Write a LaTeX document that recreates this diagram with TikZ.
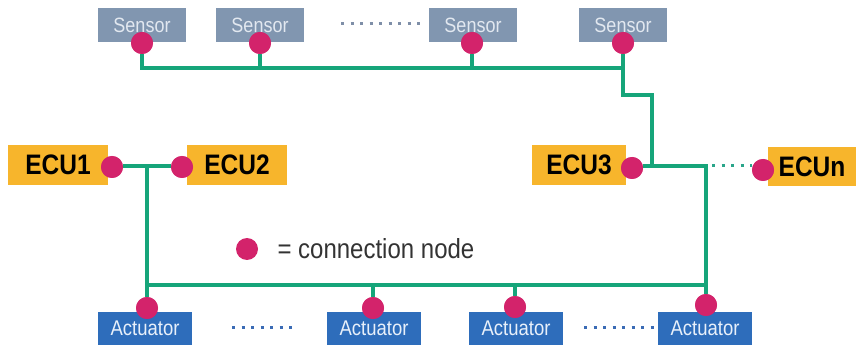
\documentclass[tikz,border=0pt]{standalone}
\usepackage{fontspec}
\setmainfont{Liberation Sans}
\definecolor{sensorc}{HTML}{8196B0}
\definecolor{sensortxt}{HTML}{E2E8F0}
\definecolor{actc}{HTML}{2E6DBB}
\definecolor{acttxt}{HTML}{E8F0FA}
\definecolor{ecuc}{HTML}{F7B52C}
\definecolor{dotc}{HTML}{D3236B}
\definecolor{busc}{HTML}{16A57A}
\definecolor{sdots}{HTML}{7F8FA8}
\definecolor{adots}{HTML}{3A6BB5}
\definecolor{edots}{HTML}{2AA58A}
\newcommand{\vstretch}[1]{\scalebox{1}[1.15]{#1}}
\begin{document}
\begin{tikzpicture}[x=1pt,y=-1pt,
  sensorbox/.style={rectangle, fill=sensorc, minimum width=88pt, minimum height=34pt, inner sep=0pt, text=sensortxt, font=\fontsize{18}{18}\selectfont},
  actbox/.style={rectangle, fill=actc, minimum width=94pt, minimum height=33pt, inner sep=0pt, text=acttxt, font=\fontsize{18.5}{18.5}\selectfont},
  ecubox/.style={rectangle, fill=ecuc, minimum height=40pt, inner sep=0pt, text=black, font=\fontsize{24.5}{24.5}\selectfont\bfseries},
  cnode/.style={circle, fill=dotc, minimum size=22pt, inner sep=0pt},
  bus/.style={draw=busc, line width=4pt},
  dotline/.style={line width=3pt, dash pattern=on 3pt off 6.5pt}]
\useasboundingbox (0,0) rectangle (864,347);
% boxes
\node[sensorbox] (s1) at (142,25) {\vstretch{Sensor}};
\node[sensorbox] (s2) at (260,25) {\vstretch{Sensor}};
\node[sensorbox] (s3) at (473,25) {\vstretch{Sensor}};
\node[sensorbox] (s4) at (623,25) {\vstretch{Sensor}};
\node[ecubox, minimum width=100pt] (e1) at (58,165) {\vstretch{ECU1}};
\node[ecubox, minimum width=100pt] (e2) at (237,165) {\vstretch{ECU2}};
\node[ecubox, minimum width=94pt] (e3) at (579,165) {\vstretch{ECU3}};
\node[ecubox, minimum width=88pt, minimum height=39pt] (en) at (812,167) {\vstretch{ECUn}};
\node[actbox] (a1) at (145,328) {\vstretch{Actuator}};
\node[actbox] (a2) at (374,328) {\vstretch{Actuator}};
\node[actbox] (a3) at (516,328) {\vstretch{Actuator}};
\node[actbox] (a4) at (705,328) {\vstretch{Actuator}};
% connection nodes
\node[cnode] (ds1) at (142,43) {};
\node[cnode] (ds2) at (260,43) {};
\node[cnode] (ds3) at (472,43) {};
\node[cnode] (ds4) at (623,43) {};
\node[cnode] (de1) at (112,167) {};
\node[cnode] (de2) at (182,167) {};
\node[cnode] (de3) at (632,168) {};
\node[cnode] (den) at (763,170) {};
\node[cnode] (da1) at (147,308) {};
\node[cnode] (da2) at (373,308) {};
\node[cnode] (da3) at (515,307) {};
\node[cnode] (da4) at (706,305) {};
% junction coordinates
\coordinate (t1) at (142,68);
\coordinate (t4) at (623,68);
\coordinate (k1) at (623,95);
\coordinate (k2) at (652,95);
\coordinate (k3) at (652,166);
\coordinate (r1) at (706,166);
\coordinate (r2) at (706,285);
\coordinate (l1) at (147,166);
\coordinate (l2) at (147,285);
% buses
\draw[bus] (ds1) -- (t1) -- (t4);
\draw[bus] (ds2) -- (ds2 |- t1);
\draw[bus] (ds3) -- (ds3 |- t1);
\draw[bus] (ds4) -- (k1) -- (k2) -- (k3);
\draw[bus] (de1.east |- l1) -- (de2.west |- l1);
\draw[bus] (l1) -- (l2) -- (r2) -- (r1) -- (de3.east |- r1);
\draw[bus] (l2) -- (da1);
\draw[bus] (da2 |- l2) -- (da2);
\draw[bus] (da3 |- l2) -- (da3);
\draw[bus] (r2) -- (da4);
% redraw dots on top
\foreach \n in {ds1,ds2,ds3,ds4,de1,de2,de3,den,da1,da2,da3,da4}{\fill[dotc] (\n) circle (11pt);}
% dotted continuation marks
\coordinate (sd1) at (341,24); \coordinate (sd2) at (426,24);
\draw[dotline, draw=sdots] (sd1) -- (sd2);
\coordinate (ad1) at (232,327); \coordinate (ad2) at (294,327);
\draw[dotline, draw=adots] (ad1) -- (ad2);
\coordinate (ad3) at (584,327); \coordinate (ad4) at (654,327);
\draw[dotline, draw=adots] (ad3) -- (ad4);
\draw[dotline, draw=edots] (r1 -| 712,0) -- (den.west |- r1);
% legend
\node[cnode] (leg) at (247,249) {};
\node[anchor=west, font=\fontsize{24}{24}\selectfont, text=black!80] (legt) at (274,249) {\vstretch{= connection node}};
\end{tikzpicture}
\end{document}
